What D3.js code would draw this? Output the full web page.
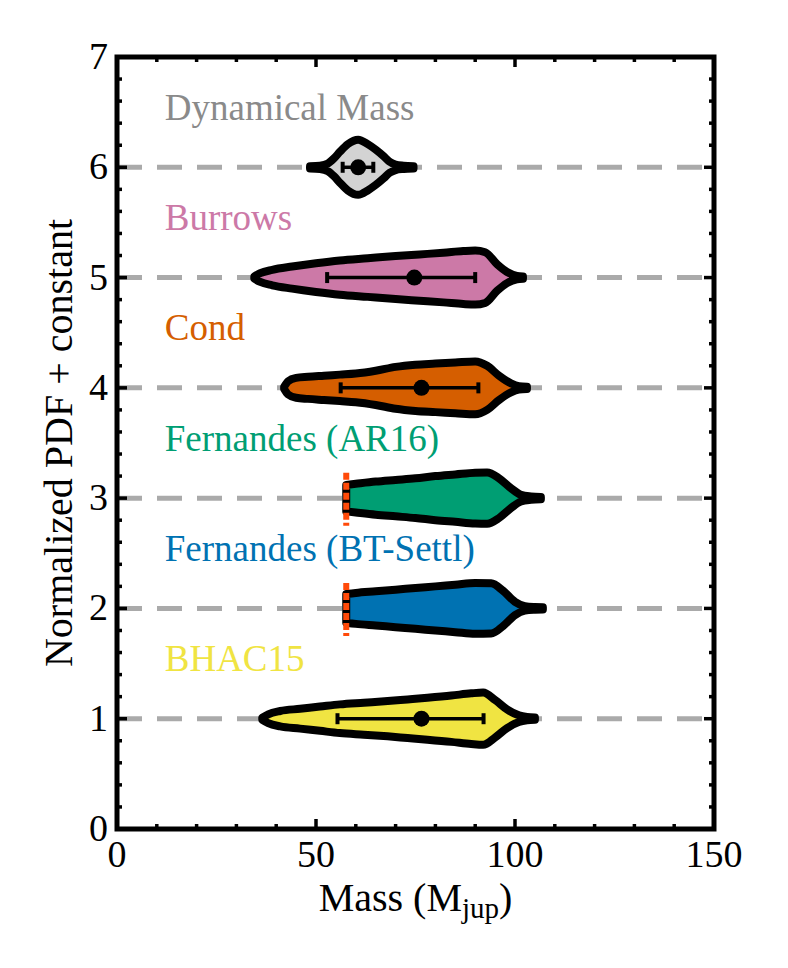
<!DOCTYPE html>
<html>
<head>
<meta charset="utf-8">
<script src="https://cdn.jsdelivr.net/npm/d3@7"></script>
<style>
  body { margin: 0; background: #fff; }
</style>
</head>
<body>
<script>
// model names, offsets and colours
var names = ['Dynamical Mass', 'Burrows', 'Cond', 'Fernandes (AR16)', 'Fernandes (BT-Settl)', 'BHAC15'];
var offsets = [6, 5, 4, 3, 2, 1];
var fills = ['#d3d3d3', '#cc79a7', '#d55e00', '#009e73', '#0072b2', '#f0e442'];
var textColors = ['#8a8a8a', '#cc79a7', '#d55e00', '#009e73', '#0072b2', '#f0e442'];

// violin outlines: mass grid and half widths (pdf units)
var dynMass = [48.5, 51, 53, 54.5, 56, 58, 60.6, 63, 65, 67, 68.5, 70, 72, 74.5];
var dynPdf  = [0.01, 0.015, 0.035, 0.08, 0.14, 0.21, 0.25, 0.21, 0.16, 0.1, 0.05, 0.025, 0.015, 0.01];

var burMass = [34.5, 36, 39, 44, 50, 56, 63, 70, 76, 82, 87, 90, 92.5, 95.5, 98, 100.5, 102];
var burPdf  = [0.01, 0.04, 0.07, 0.1, 0.13, 0.155, 0.175, 0.195, 0.21, 0.225, 0.24, 0.245, 0.23, 0.12, 0.05, 0.015, 0.01];

var conMass = [42, 43, 45, 48, 52, 56, 60, 65, 70, 75, 80, 85, 90, 93, 96, 99, 101, 103];
var conPdf  = [0.01, 0.06, 0.09, 0.1, 0.11, 0.12, 0.13, 0.155, 0.19, 0.21, 0.22, 0.23, 0.24, 0.2, 0.11, 0.04, 0.015, 0.01];

var arMass = [57.6, 60, 65, 70, 75, 80, 85, 90, 93, 96, 99, 101.5, 104, 106.5];
var arPdf  = [0.12, 0.13, 0.15, 0.165, 0.18, 0.2, 0.215, 0.23, 0.232, 0.18, 0.09, 0.03, 0.015, 0.01];

var btMass = [57.6, 60, 65, 70, 75, 80, 85, 90, 94, 97, 100, 102.5, 105, 107];
var btPdf  = [0.13, 0.14, 0.155, 0.17, 0.185, 0.2, 0.215, 0.23, 0.228, 0.16, 0.06, 0.02, 0.012, 0.01];

var bhMass = [36.5, 38, 41, 46, 51, 56, 62, 68, 73, 78, 84, 89, 92, 95, 98, 101, 103, 105];
var bhPdf  = [0.01, 0.04, 0.07, 0.09, 0.11, 0.13, 0.145, 0.16, 0.175, 0.19, 0.21, 0.23, 0.237, 0.17, 0.085, 0.03, 0.015, 0.01];

// medians and intervals (null = none drawn)
var medians = [60.6, 74.7, 76.5, null, null, 76.5];
var lowers  = [56.7, 52.8, 56.2, null, null, 55.4];
var uppers  = [64.4, 90.0, 90.8, null, null, 92.1];

// lower mass limit for the Fernandes grids
var massLimit = 57.6;

var xTicks = [0, 50, 100, 150];
var yTicks = [0, 1, 2, 3, 4, 5, 6, 7];

var massGrids = [dynMass, burMass, conMass, arMass, btMass, bhMass];
var pdfGrids = [dynPdf, burPdf, conPdf, arPdf, btPdf, bhPdf];

var serif = 'Liberation Serif';

var margin = {top: 57, right: 74, bottom: 139, left: 117},
    width = 788 - margin.left - margin.right,
    height = 968 - margin.top - margin.bottom;

var svg = d3.select('body').append('svg')
    .attr('width', 788)
    .attr('height', 968)
  .append('g')
    .attr('transform', 'translate(' + margin.left + ',' + margin.top + ')');

var x = d3.scaleLinear().domain([0, 150]).range([0, width]);
var y = d3.scaleLinear().domain([0, 7]).range([height, 0]);

// dashed reference lines
svg.selectAll('.ref')
  .data(offsets)
  .enter()
    .append('line')
    .attr('x1', 0)
    .attr('x2', width)
    .attr('y1', function(d){ return y(d); })
    .attr('y2', function(d){ return y(d); })
    .attr('stroke', '#aaaaaa')
    .attr('stroke-width', 5)
    .attr('stroke-dasharray', '25,15');

// violins
names.forEach(function(name, i){
  var pts = massGrids[i].map(function(m, j){ return {m: m, w: pdfGrids[i][j]}; });
  var area = d3.area()
      .x(function(d){ return x(d.m); })
      .y0(function(d){ return y(offsets[i] - d.w); })
      .y1(function(d){ return y(offsets[i] + d.w); })
      .curve(d3.curveMonotoneX);

  svg.append('path')
    .datum(pts)
    .attr('d', area)
    .attr('fill', fills[i])
    .attr('stroke', '#000')
    .attr('stroke-width', 8)
    .attr('stroke-linejoin', 'round');

  if (medians[i] !== null) {
    var yy = y(offsets[i]);
    svg.append('line')
      .attr('x1', x(lowers[i])).attr('x2', x(uppers[i]))
      .attr('y1', yy).attr('y2', yy)
      .attr('stroke', '#000').attr('stroke-width', 3.5);
    [lowers[i], uppers[i]].forEach(function(v){
      svg.append('line')
        .attr('x1', x(v)).attr('x2', x(v))
        .attr('y1', yy - 5.5).attr('y2', yy + 5.5)
        .attr('stroke', '#000').attr('stroke-width', 4);
    });
    svg.append('circle')
      .attr('cx', x(medians[i]))
      .attr('cy', yy)
      .attr('r', 8)
      .attr('fill', '#000');
  } else {
    svg.append('line')
      .attr('x1', x(massLimit)).attr('x2', x(massLimit))
      .attr('y1', y(offsets[i] + 0.23)).attr('y2', y(offsets[i] - 0.25))
      .attr('stroke', '#ff4a0a')
      .attr('stroke-width', 6)
      .attr('stroke-dasharray', '7,3');
  }

  svg.append('text')
    .attr('x', x(12))
    .attr('y', y(offsets[i] + 0.43))
    .attr('fill', textColors[i])
    .style('font-family', serif)
    .style('font-size', '37px')
    .text(name);
});

// frame
svg.append('rect')
  .attr('x', 0).attr('y', 0)
  .attr('width', width).attr('height', height)
  .attr('fill', 'none')
  .attr('stroke', '#000')
  .attr('stroke-width', 5);

// inward ticks on all four sides
var xMinor = d3.range(10, 150, 10).filter(function(v){ return v % 50 !== 0; });
var yMinor = d3.range(1, 35).map(function(k){ return k * 0.2; }).filter(function(v){ return Math.abs(v - Math.round(v)) > 0.01; });

function tickMarks(vals, len, horiz) {
  vals.forEach(function(v){
    if (horiz) {
      svg.append('line').attr('x1', x(v)).attr('x2', x(v)).attr('y1', height).attr('y2', height - len)
        .attr('stroke', '#000').attr('stroke-width', 3.5);
      svg.append('line').attr('x1', x(v)).attr('x2', x(v)).attr('y1', 0).attr('y2', len)
        .attr('stroke', '#000').attr('stroke-width', 3.5);
    } else {
      svg.append('line').attr('x1', 0).attr('x2', len).attr('y1', y(v)).attr('y2', y(v))
        .attr('stroke', '#000').attr('stroke-width', 3.5);
      svg.append('line').attr('x1', width).attr('x2', width - len).attr('y1', y(v)).attr('y2', y(v))
        .attr('stroke', '#000').attr('stroke-width', 3.5);
    }
  });
}
tickMarks(xTicks, 10, true);
tickMarks(xMinor, 5, true);
tickMarks(yTicks, 10, false);
tickMarks(yMinor, 5, false);

// tick labels
svg.selectAll('.xl')
  .data(xTicks)
  .enter()
    .append('text')
    .attr('x', function(d){ return x(d); })
    .attr('y', height + 38)
    .attr('text-anchor', 'middle')
    .style('font-family', serif)
    .style('font-size', '38px')
    .text(function(d){ return d; });

svg.selectAll('.yl')
  .data(yTicks)
  .enter()
    .append('text')
    .attr('x', -9)
    .attr('y', function(d){ return y(d) + 12; })
    .attr('text-anchor', 'end')
    .style('font-family', serif)
    .style('font-size', '38px')
    .text(function(d){ return d; });

// axis labels
var xl = svg.append('text')
  .attr('x', width / 2)
  .attr('y', height + 82)
  .attr('text-anchor', 'middle')
  .style('font-family', serif)
  .style('font-size', '40px');
xl.append('tspan').text('Mass (M');
xl.append('tspan').style('font-size', '29px').attr('dy', 7).text('jup');
xl.append('tspan').attr('dy', -7).text(')');

svg.append('text')
  .attr('transform', 'translate(' + (72 - margin.left) + ',' + (height / 2) + ') rotate(-90)')
  .attr('text-anchor', 'middle')
  .style('font-family', serif)
  .style('font-size', '40px')
  .text('Normalized PDF + constant');
</script>
</body>
</html>
